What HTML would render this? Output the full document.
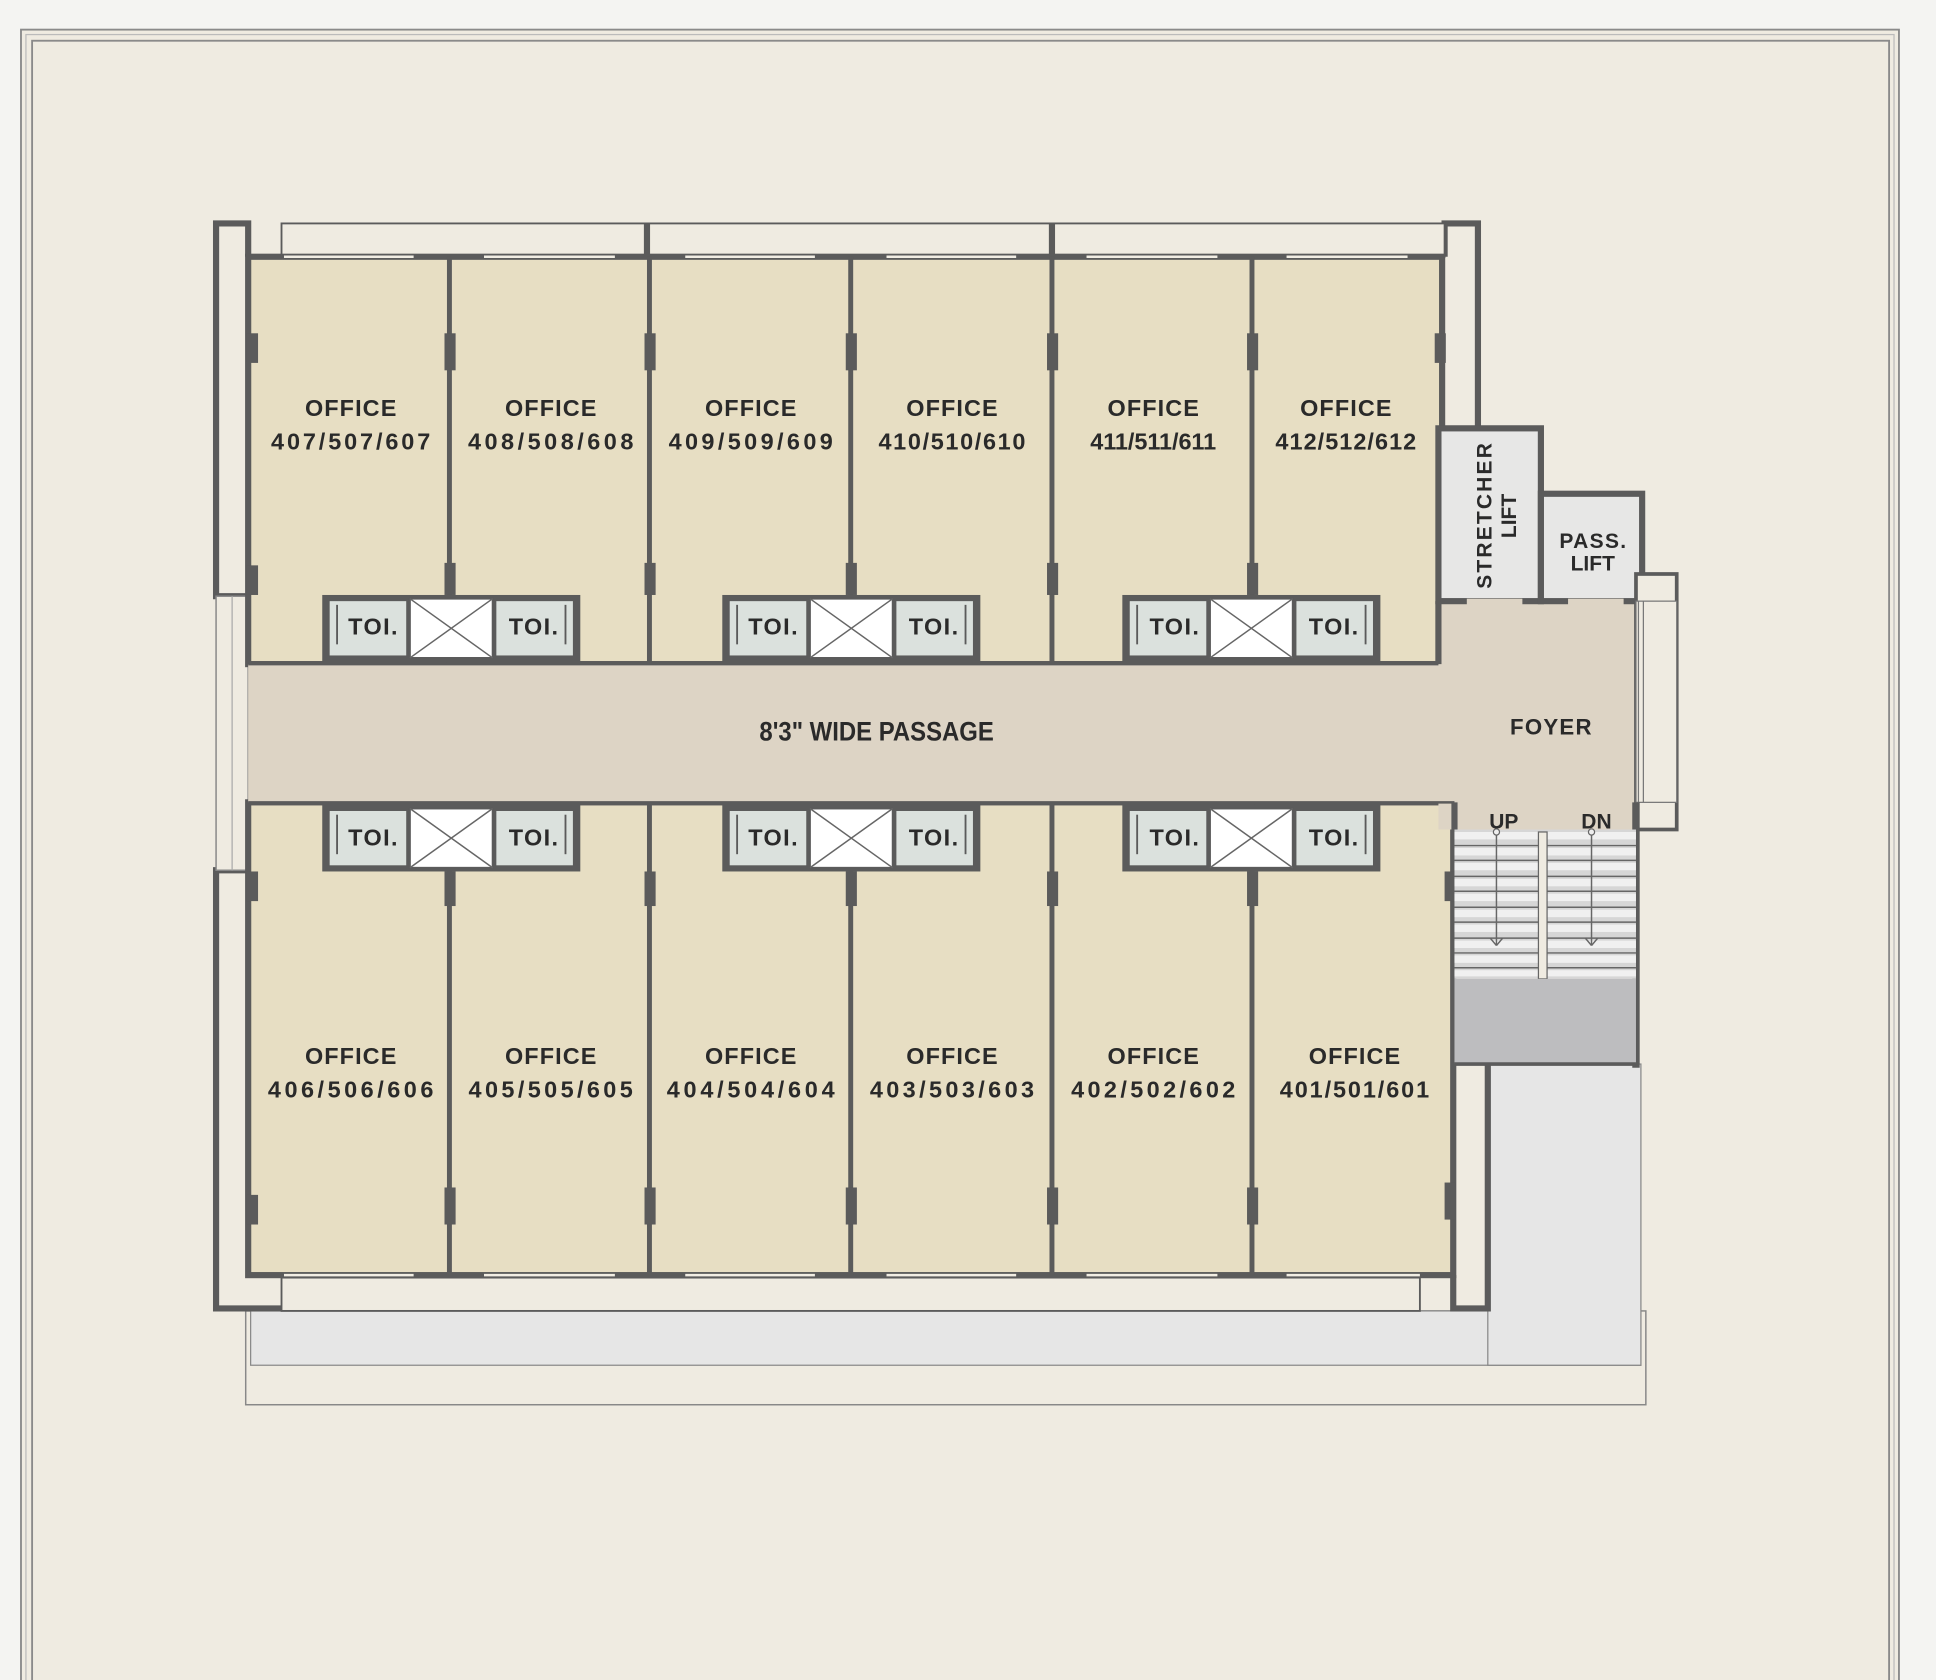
<!DOCTYPE html>
<html><head><meta charset="utf-8"><style>
html,body{margin:0;padding:0;background:#f4f4f2}
svg{display:block}
text{font-family:"Liberation Sans",sans-serif;font-weight:bold;fill:#2a2a2a}
</style></head><body>
<svg width="1936" height="1680" viewBox="0 0 1568 1361" preserveAspectRatio="none" xmlns="http://www.w3.org/2000/svg">
<rect x="0" y="0" width="1568" height="1361" fill="#f4f4f2"/>
<rect x="17" y="24" width="1521" height="1345" fill="#efebe1" stroke="#8a8a8a" stroke-width="1.5"/>
<rect x="26" y="33" width="1504" height="1340" fill="none" stroke="#8a8a8a" stroke-width="1.5"/>
<rect x="21" y="28" width="1513" height="1345" fill="none" stroke="#bbb" stroke-width="1"/>

<rect x="199" y="1062" width="1134" height="76" fill="none" stroke="#888" stroke-width="1.2"/>
<rect x="203" y="1062" width="1126" height="44" fill="#e6e6e6" stroke="#888" stroke-width="1"/>
<rect x="1205" y="862" width="124" height="244" fill="#e6e6e6" stroke="#888" stroke-width="1"/>

<path d="M201 208 V181 H175 V483 H201 M1170 208 V181 H1197 V347" fill="none" stroke="#5b5b5b" stroke-width="5"/>
<rect x="228" y="181" width="942" height="27" fill="#efebe1" stroke="#5b5b5b" stroke-width="1.5"/>
<line x1="524" y1="181" x2="524" y2="208" stroke="#5b5b5b" stroke-width="5"/>
<line x1="852" y1="181" x2="852" y2="208" stroke="#5b5b5b" stroke-width="5"/>
<path d="M201 705 H175 V1060 H228 M1177 1033 V1060 H1205 V862" fill="none" stroke="#5b5b5b" stroke-width="5"/>
<rect x="228" y="1035" width="922" height="27" fill="#efebe1" stroke="#5b5b5b" stroke-width="1.5"/>
<rect x="175" y="483" width="26" height="222" fill="#efebe1" stroke="#888" stroke-width="1.2"/>
<line x1="188" y1="483" x2="188" y2="705" stroke="#aaa" stroke-width="1"/>

<rect x="201" y="208" width="967" height="330" fill="#e7dec3" stroke="#5b5b5b" stroke-width="5"/>
<rect x="201" y="650" width="976" height="383" fill="#e7dec3" stroke="#5b5b5b" stroke-width="5"/>
<g stroke="#5b5b5b" stroke-width="4">
<line x1="364" y1="208" x2="364" y2="538"/><line x1="526" y1="208" x2="526" y2="538"/><line x1="689" y1="208" x2="689" y2="538"/><line x1="852" y1="208" x2="852" y2="538"/><line x1="1014" y1="208" x2="1014" y2="538"/>
<line x1="364" y1="650" x2="364" y2="1033"/><line x1="526" y1="650" x2="526" y2="1033"/><line x1="689" y1="650" x2="689" y2="1033"/><line x1="852" y1="650" x2="852" y2="1033"/><line x1="1014" y1="650" x2="1014" y2="1033"/>
</g>
<g stroke="#f2eee4" stroke-width="2">
<line x1="230" y1="208" x2="335" y2="208"/><line x1="392" y1="208" x2="498" y2="208"/><line x1="555" y1="208" x2="660" y2="208"/><line x1="718" y1="208" x2="823" y2="208"/><line x1="880" y1="208" x2="986" y2="208"/><line x1="1042" y1="208" x2="1140" y2="208"/>
<line x1="230" y1="1033" x2="335" y2="1033"/><line x1="392" y1="1033" x2="498" y2="1033"/><line x1="555" y1="1033" x2="660" y2="1033"/><line x1="718" y1="1033" x2="823" y2="1033"/><line x1="880" y1="1033" x2="986" y2="1033"/><line x1="1042" y1="1033" x2="1150" y2="1033"/>
</g>
<g fill="#5b5b5b">
<rect x="200" y="270" width="9" height="24"/><rect x="200" y="458" width="9" height="24"/>
<rect x="360" y="270" width="9" height="30"/><rect x="360" y="456" width="9" height="26"/>
<rect x="522" y="270" width="9" height="30"/><rect x="522" y="456" width="9" height="26"/>
<rect x="685" y="270" width="9" height="30"/><rect x="685" y="456" width="9" height="26"/>
<rect x="848" y="270" width="9" height="30"/><rect x="848" y="456" width="9" height="26"/>
<rect x="1010" y="270" width="9" height="30"/><rect x="1010" y="456" width="9" height="26"/>
<rect x="1162" y="270" width="9" height="24"/>
<rect x="200" y="706" width="9" height="24"/><rect x="200" y="968" width="9" height="24"/>
<rect x="360" y="706" width="9" height="28"/><rect x="360" y="962" width="9" height="30"/>
<rect x="522" y="706" width="9" height="28"/><rect x="522" y="962" width="9" height="30"/>
<rect x="685" y="706" width="9" height="28"/><rect x="685" y="962" width="9" height="30"/>
<rect x="848" y="706" width="9" height="28"/><rect x="848" y="962" width="9" height="30"/>
<rect x="1010" y="706" width="9" height="28"/><rect x="1010" y="962" width="9" height="30"/>
<rect x="1170" y="706" width="9" height="24"/><rect x="1170" y="958" width="9" height="30"/>
</g>

<rect x="201" y="538" width="1124" height="112" fill="#ddd4c5"/>
<rect x="1165" y="487" width="160" height="185" fill="#ddd4c5"/>
<line x1="201" y1="538" x2="1165" y2="538" stroke="#5b5b5b" stroke-width="2"/>
<line x1="201" y1="650" x2="1178" y2="650" stroke="#5b5b5b" stroke-width="2"/>
<line x1="1165" y1="487" x2="1165" y2="538" stroke="#5b5b5b" stroke-width="5"/>
<line x1="1178" y1="650" x2="1178" y2="672" stroke="#5b5b5b" stroke-width="5"/>

<rect x="1165" y="347" width="83" height="140" fill="#e7e7e6" stroke="#5b5b5b" stroke-width="5"/>
<rect x="1248" y="400" width="82" height="87" fill="#e7e7e6" stroke="#5b5b5b" stroke-width="5"/>
<g fill="#ddd4c5"><rect x="1188" y="485" width="45" height="5"/><rect x="1270" y="485" width="45" height="5"/></g>

<rect x="1325" y="465" width="33" height="207" fill="#efebe1" stroke="#5b5b5b" stroke-width="3"/>
<rect x="1325" y="487" width="33" height="163" fill="#efebe1" stroke="#777" stroke-width="1"/>
<line x1="1331" y1="487" x2="1331" y2="650" stroke="#777" stroke-width="1"/>
<line x1="1327" y1="487" x2="1327" y2="650" stroke="#777" stroke-width="1"/>
<line x1="1325" y1="650" x2="1325" y2="865" stroke="#5b5b5b" stroke-width="6"/>

<rect x="1178" y="672" width="147" height="121" fill="#d6d6d6"/>
<g fill="#f0f0f0">
<rect x="1178" y="674" width="147" height="6"/><rect x="1178" y="687" width="147" height="6"/><rect x="1178" y="699" width="147" height="6"/><rect x="1178" y="712" width="147" height="6"/><rect x="1178" y="724" width="147" height="6"/><rect x="1178" y="737" width="147" height="6"/><rect x="1178" y="749" width="147" height="6"/><rect x="1178" y="762" width="147" height="6"/><rect x="1178" y="774" width="147" height="6"/><rect x="1178" y="786" width="147" height="5"/>
</g>
<g stroke="#666" stroke-width="1.2">
<line x1="1178" y1="685" x2="1325" y2="685"/><line x1="1178" y1="697" x2="1325" y2="697"/><line x1="1178" y1="710" x2="1325" y2="710"/><line x1="1178" y1="722" x2="1325" y2="722"/><line x1="1178" y1="735" x2="1325" y2="735"/><line x1="1178" y1="747" x2="1325" y2="747"/><line x1="1178" y1="760" x2="1325" y2="760"/><line x1="1178" y1="772" x2="1325" y2="772"/><line x1="1178" y1="784" x2="1325" y2="784"/>
<line x1="1212" y1="674" x2="1212" y2="766"/><line x1="1207" y1="760" x2="1212" y2="766"/><line x1="1217" y1="760" x2="1212" y2="766"/>
<line x1="1289" y1="674" x2="1289" y2="766"/><line x1="1284" y1="760" x2="1289" y2="766"/><line x1="1294" y1="760" x2="1289" y2="766"/>
</g>
<circle cx="1212" cy="674" r="2.5" fill="#eee" stroke="#666"/><circle cx="1289" cy="674" r="2.5" fill="#eee" stroke="#666"/>
<rect x="1246" y="674" width="7" height="119" fill="#efebe1" stroke="#666" stroke-width="1"/>
<rect x="1178" y="793" width="147" height="69" fill="#bdbdbf"/>
<line x1="1178" y1="862" x2="1325" y2="862" stroke="#5b5b5b" stroke-width="3"/>

<defs>
<g id="tb">
<rect x="0" y="0" width="209" height="54" fill="#5b5b5b"/>
<rect x="6" y="5" width="62" height="44" fill="#dbe1dd"/>
<rect x="141" y="5" width="62" height="44" fill="#dbe1dd"/>
<rect x="71" y="3" width="67" height="48" fill="#fff" stroke="#5b5b5b" stroke-width="1.5"/>
<line x1="71" y1="3" x2="138" y2="51" stroke="#666" stroke-width="1.2"/>
<line x1="138" y1="3" x2="71" y2="51" stroke="#666" stroke-width="1.2"/>
<line x1="12" y1="8" x2="12" y2="40" stroke="#5b5b5b" stroke-width="1.5"/>
<line x1="197" y1="8" x2="197" y2="40" stroke="#5b5b5b" stroke-width="1.5"/>
</g>
</defs>
<use href="#tb" x="261" y="482"/><use href="#tb" x="585" y="482"/><use href="#tb" x="909" y="482"/>
<use href="#tb" x="261" y="652"/><use href="#tb" x="585" y="652"/><use href="#tb" x="909" y="652"/>
<g font-size="19" text-anchor="middle">
<text x="302" y="514" textLength="40">TOI.</text><text x="432" y="514" textLength="40">TOI.</text>
<text x="626" y="514" textLength="40">TOI.</text><text x="756" y="514" textLength="40">TOI.</text>
<text x="951" y="514" textLength="40">TOI.</text><text x="1080" y="514" textLength="40">TOI.</text>
<text x="302" y="685" textLength="40">TOI.</text><text x="432" y="685" textLength="40">TOI.</text>
<text x="626" y="685" textLength="40">TOI.</text><text x="756" y="685" textLength="40">TOI.</text>
<text x="951" y="685" textLength="40">TOI.</text><text x="1080" y="685" textLength="40">TOI.</text>
</g>

<g font-size="19" text-anchor="middle">
<text x="284" y="337" textLength="74">OFFICE</text><text x="284" y="364" textLength="129">407/507/607</text>
<text x="446" y="337" textLength="74">OFFICE</text><text x="446" y="364" textLength="134">408/508/608</text>
<text x="608" y="337" textLength="74">OFFICE</text><text x="608" y="364" textLength="133">409/509/609</text>
<text x="771" y="337" textLength="74">OFFICE</text><text x="771" y="364" textLength="119">410/510/610</text>
<text x="934" y="337" textLength="74">OFFICE</text><text x="934" y="364" textLength="102">411/511/611</text>
<text x="1090" y="337" textLength="74">OFFICE</text><text x="1090" y="364" textLength="114">412/512/612</text>
<text x="284" y="862" textLength="74">OFFICE</text><text x="284" y="889" textLength="134">406/506/606</text>
<text x="446" y="862" textLength="74">OFFICE</text><text x="446" y="889" textLength="133">405/505/605</text>
<text x="608" y="862" textLength="74">OFFICE</text><text x="608" y="889" textLength="136">404/504/604</text>
<text x="771" y="862" textLength="74">OFFICE</text><text x="771" y="889" textLength="133">403/503/603</text>
<text x="934" y="862" textLength="74">OFFICE</text><text x="934" y="889" textLength="133">402/502/602</text>
<text x="1097" y="862" textLength="74">OFFICE</text><text x="1097" y="889" textLength="121">401/501/601</text>
</g>
<text x="710" y="600" font-size="22" text-anchor="middle" transform="translate(710 0) scale(0.88 1) translate(-710 0)">8'3" WIDE PASSAGE</text>
<text x="1256" y="595" font-size="18" text-anchor="middle" textLength="66">FOYER</text>
<text x="1218" y="671" font-size="17" text-anchor="middle">UP</text>
<text x="1293" y="671" font-size="17" text-anchor="middle">DN</text>
<text x="1290" y="444" font-size="17" text-anchor="middle" textLength="54">PASS.</text>
<text x="1290" y="462" font-size="17" text-anchor="middle">LIFT</text>
<g transform="translate(1208 418) rotate(-90)"><text x="0" y="0" font-size="17" text-anchor="middle" textLength="118">STRETCHER</text><text x="0" y="20" font-size="17" text-anchor="middle">LIFT</text></g>
</svg>
</body></html>
